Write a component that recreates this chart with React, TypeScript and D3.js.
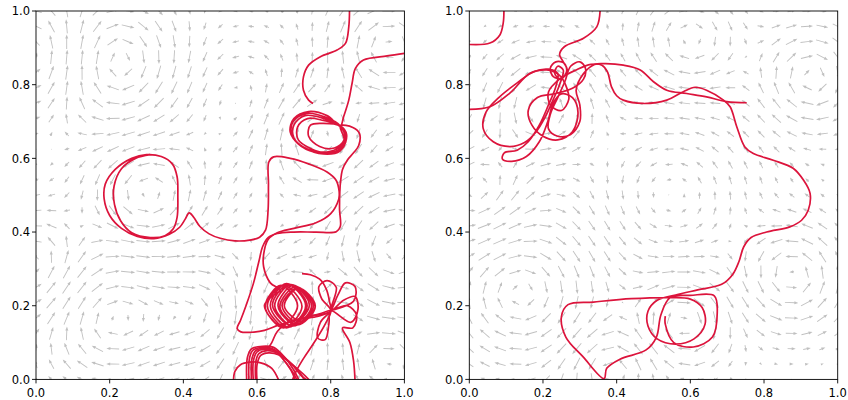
import React from 'react';
import * as d3 from 'd3';

const tickValues = [0, 0.2, 0.4, 0.6, 0.8, 1.0];
const gridCount = 25;

// red trajectories, left panel (data units)
const leftTrajectories: number[][][] = [
  [[0.851, 1.0], [0.849, 0.957], [0.84, 0.912], [0.817, 0.894], [0.772, 0.876], [0.74, 0.853], [0.726, 0.821], [0.726, 0.785], [0.74, 0.758], [0.752, 0.749]],
  [[1.0, 0.885], [0.953, 0.878], [0.889, 0.867], [0.867, 0.844], [0.858, 0.804], [0.849, 0.758], [0.835, 0.713], [0.826, 0.688],
    [0.79, 0.716], [0.74, 0.727], [0.7, 0.708], [0.69, 0.672], [0.715, 0.638], [0.765, 0.618], [0.815, 0.625], [0.838, 0.652], [0.826, 0.688],
    [0.785, 0.712], [0.735, 0.722], [0.698, 0.7], [0.694, 0.665], [0.72, 0.633], [0.77, 0.615], [0.82, 0.622], [0.84, 0.655], [0.826, 0.688],
    [0.782, 0.708], [0.73, 0.716], [0.7, 0.69], [0.7, 0.656], [0.73, 0.628], [0.78, 0.612], [0.825, 0.62], [0.842, 0.66], [0.826, 0.688],
    [0.78, 0.703], [0.737, 0.708], [0.71, 0.685], [0.712, 0.65], [0.745, 0.627], [0.79, 0.615], [0.83, 0.625], [0.843, 0.665], [0.826, 0.688],
    [0.775, 0.695], [0.745, 0.69], [0.74, 0.66], [0.77, 0.632], [0.81, 0.628], [0.836, 0.65], [0.826, 0.688],
    [0.86, 0.684], [0.878, 0.668], [0.876, 0.635], [0.862, 0.615], [0.845, 0.595], [0.832, 0.57], [0.826, 0.53],
    [0.822, 0.49], [0.8, 0.45], [0.76, 0.425], [0.7, 0.41], [0.655, 0.398], [0.63, 0.38], [0.618, 0.34], [0.618, 0.305], [0.636, 0.262], [0.663, 0.242],
    [0.64, 0.225], [0.62, 0.2], [0.665, 0.145], [0.71, 0.2], [0.665, 0.255],
    [0.622, 0.198], [0.672, 0.14], [0.722, 0.198], [0.672, 0.256],
    [0.628, 0.2], [0.68, 0.14], [0.732, 0.2], [0.68, 0.26],
    [0.636, 0.2], [0.686, 0.142], [0.736, 0.2], [0.686, 0.258],
    [0.642, 0.202], [0.692, 0.147], [0.742, 0.202], [0.692, 0.257],
    [0.648, 0.2], [0.698, 0.145], [0.748, 0.2], [0.698, 0.255],
    [0.657, 0.2], [0.705, 0.148], [0.753, 0.2], [0.705, 0.252],
    [0.662, 0.198], [0.71, 0.148], [0.758, 0.198], [0.71, 0.248],
    [0.668, 0.2], [0.713, 0.152], [0.758, 0.2], [0.713, 0.248],
    [0.674, 0.2], [0.716, 0.158], [0.74, 0.17], [0.8, 0.186],
    [0.775, 0.22], [0.768, 0.252], [0.79, 0.268], [0.815, 0.25], [0.8, 0.186],
    [0.835, 0.215], [0.866, 0.225], [0.874, 0.19], [0.855, 0.155], [0.8, 0.186],
    [0.795, 0.15], [0.785, 0.108], [0.765, 0.112], [0.772, 0.155], [0.8, 0.186],
    [0.82, 0.23], [0.84, 0.262], [0.866, 0.252], [0.862, 0.212], [0.8, 0.186],
    [0.845, 0.2], [0.87, 0.175], [0.86, 0.14], [0.832, 0.14], [0.852, 0.1], [0.862, 0.05], [0.866, -0.005]],
  [[0.31, 0.61], [0.27, 0.6], [0.232, 0.572], [0.212, 0.525], [0.213, 0.475], [0.23, 0.43], [0.26, 0.398], [0.31, 0.385], [0.35, 0.39], [0.372, 0.408],
    [0.383, 0.44], [0.385, 0.5], [0.383, 0.55], [0.37, 0.585], [0.34, 0.605], [0.3, 0.61],
    [0.26, 0.6], [0.215, 0.57], [0.188, 0.53], [0.185, 0.49], [0.2, 0.445], [0.232, 0.41], [0.275, 0.388], [0.32, 0.382], [0.362, 0.394], [0.39, 0.413],
    [0.405, 0.435], [0.416, 0.452], [0.428, 0.44], [0.445, 0.415], [0.47, 0.395], [0.5, 0.383], [0.54, 0.376], [0.58, 0.378], [0.607, 0.386], [0.623, 0.405],
    [0.63, 0.46], [0.631, 0.53], [0.632, 0.59], [0.645, 0.604], [0.69, 0.6], [0.74, 0.585], [0.79, 0.563], [0.815, 0.54], [0.823, 0.51], [0.824, 0.46],
    [0.826, 0.415], [0.815, 0.401], [0.76, 0.4], [0.7, 0.4], [0.655, 0.396], [0.63, 0.385], [0.615, 0.36], [0.605, 0.32], [0.59, 0.26], [0.57, 0.2],
    [0.555, 0.16], [0.546, 0.138], [0.556, 0.129], [0.585, 0.128], [0.62, 0.133], [0.66, 0.148], [0.72, 0.165], [0.77, 0.178], [0.8, 0.186],
    [0.785, 0.15], [0.755, 0.1], [0.725, 0.055], [0.705, 0.02], [0.695, -0.005]],
  [[0.722, 0.287], [0.745, 0.284], [0.77, 0.272], [0.788, 0.245], [0.797, 0.21], [0.8, 0.186], [0.76, 0.17], [0.69, 0.158], [0.655, 0.13], [0.64, 0.1], [0.63, 0.085]],
  [[0.572, -0.005], [0.574, 0.06], [0.585, 0.083], [0.615, 0.09], [0.645, 0.087], [0.675, 0.06], [0.7, 0.025], [0.715, -0.005]],
  [[0.578, -0.005], [0.58, 0.06], [0.59, 0.08], [0.615, 0.087], [0.64, 0.084], [0.668, 0.058], [0.692, 0.025], [0.705, -0.005]],
  [[0.585, -0.005], [0.586, 0.055], [0.596, 0.078], [0.62, 0.085], [0.648, 0.08], [0.675, 0.05], [0.7, 0.015], [0.71, -0.005]],
  [[0.59, -0.005], [0.59, 0.05], [0.6, 0.075], [0.62, 0.082], [0.65, 0.078], [0.685, 0.05], [0.715, 0.02], [0.73, -0.005]],
  [[0.596, -0.005], [0.597, 0.05], [0.605, 0.07], [0.625, 0.078], [0.655, 0.072], [0.69, 0.045], [0.725, 0.015], [0.745, -0.005]],
  [[0.6, -0.005], [0.6, 0.04], [0.61, 0.065], [0.632, 0.072], [0.66, 0.066], [0.695, 0.04], [0.72, 0.01], [0.74, -0.005]],
  [[0.536, -0.005], [0.54, 0.022], [0.555, 0.04], [0.58, 0.047], [0.61, 0.045], [0.64, 0.03], [0.66, -0.005]],
];

// red trajectories, right panel
const rightTrajectories: number[][][] = [
  [[0.0, 0.909], [0.056, 0.913], [0.083, 0.935], [0.092, 0.967], [0.094, 1.0]],
  [[0.355, 1.0], [0.346, 0.957], [0.31, 0.926], [0.258, 0.903], [0.245, 0.882], [0.255, 0.862], [0.266, 0.84], [0.252, 0.818], [0.228, 0.822],
    [0.22, 0.845], [0.235, 0.862], [0.258, 0.858], [0.264, 0.835], [0.248, 0.815], [0.232, 0.83], [0.24, 0.85], [0.255, 0.84],
    [0.245, 0.8], [0.228, 0.76], [0.205, 0.71], [0.18, 0.67], [0.15, 0.643], [0.11, 0.632], [0.065, 0.645], [0.038, 0.68], [0.045, 0.725],
    [0.08, 0.765], [0.13, 0.805], [0.175, 0.835], [0.215, 0.842], [0.24, 0.83], [0.235, 0.795], [0.215, 0.745], [0.19, 0.69], [0.16, 0.645],
    [0.13, 0.622], [0.095, 0.615], [0.09, 0.598], [0.115, 0.592], [0.155, 0.605], [0.19, 0.645], [0.213, 0.7], [0.228, 0.75], [0.25, 0.775],
    [0.28, 0.765], [0.295, 0.725], [0.28, 0.672], [0.24, 0.65], [0.2, 0.66], [0.17, 0.69], [0.16, 0.73], [0.185, 0.765], [0.23, 0.775],
    [0.28, 0.79], [0.31, 0.815], [0.315, 0.845], [0.3, 0.862], [0.275, 0.85], [0.26, 0.81], [0.24, 0.765], [0.22, 0.72], [0.215, 0.68],
    [0.24, 0.66], [0.275, 0.665], [0.3, 0.7], [0.3, 0.745], [0.29, 0.785], [0.31, 0.83], [0.34, 0.855], [0.37, 0.857], [0.418, 0.853],
    [0.464, 0.84], [0.5, 0.808], [0.536, 0.785], [0.59, 0.776], [0.644, 0.767], [0.699, 0.754], [0.753, 0.751]],
  [[0.0, 0.733], [0.056, 0.74], [0.11, 0.777], [0.165, 0.831], [0.21, 0.84], [0.245, 0.825], [0.265, 0.79], [0.27, 0.76], [0.25, 0.73],
    [0.22, 0.745], [0.215, 0.78], [0.245, 0.815], [0.29, 0.84], [0.33, 0.855], [0.36, 0.853], [0.375, 0.835], [0.386, 0.794], [0.4, 0.77],
    [0.418, 0.758], [0.472, 0.749], [0.536, 0.758], [0.581, 0.781], [0.613, 0.793], [0.644, 0.785], [0.69, 0.758], [0.708, 0.74],
    [0.726, 0.686], [0.748, 0.631], [0.771, 0.613], [0.825, 0.595], [0.879, 0.573], [0.907, 0.541], [0.925, 0.505], [0.92, 0.459],
    [0.902, 0.432], [0.87, 0.414], [0.807, 0.4], [0.765, 0.385], [0.745, 0.36], [0.732, 0.32], [0.715, 0.285], [0.685, 0.258],
    [0.62, 0.243], [0.56, 0.229], [0.51, 0.215], [0.485, 0.185], [0.485, 0.145], [0.51, 0.11], [0.56, 0.096], [0.61, 0.11], [0.64, 0.15],
    [0.632, 0.195], [0.6, 0.218], [0.545, 0.222], [0.44, 0.219], [0.337, 0.21], [0.268, 0.203], [0.25, 0.17], [0.262, 0.115], [0.309, 0.061],
    [0.366, 0.002], [0.373, 0.03], [0.409, 0.055], [0.48, 0.08], [0.508, 0.115], [0.52, 0.175], [0.545, 0.222], [0.6, 0.228], [0.665, 0.227],
    [0.673, 0.18], [0.66, 0.115], [0.608, 0.088], [0.555, 0.1], [0.532, 0.15], [0.532, 0.172]],
];

// vortex centres read from the arrow field: [x, y, strength, radius]
const leftVortices = [
  [0.30, 0.50, 1.0, 0.11], [0.76, 0.66, -0.8, 0.09], [0.69, 0.20, 1.0, 0.08], [0.81, 0.19, -0.6, 0.06],
  [0.63, 0.04, 0.7, 0.07], [0.22, 0.86, -1.3, 0.11], [0.0, 0.88, 1.0, 0.1], [0.20, 0.17, -1.3, 0.12],
  [0.0, 0.30, 1.0, 0.1], [0.96, 0.90, -1.2, 0.1], [0.98, 0.35, 1.2, 0.12], [0.45, 0.18, -0.8, 0.1],
  [0.55, 0.75, 0.5, 0.14], [0.96, 0.06, -0.8, 0.08],
];
const rightVortices = [
  [0.20, 0.74, 1.0, 0.1], [0.58, 0.16, -0.9, 0.08], [0.88, 0.28, 1.1, 0.09], [0.93, 0.82, -1.0, 0.09],
  [0.14, 0.24, -1.4, 0.13], [0.55, 0.50, 0.8, 0.16], [0.60, 0.92, -0.7, 0.1], [0.02, 0.50, 0.9, 0.1],
  [0.38, 0.02, 0.8, 0.08],
];

const size = 368.4;
const top = 11;
const font = 'DejaVu Sans, sans-serif';

function velocity(vort: number[][], x: number, y: number) {
  let u = 0, v = 0;
  for (const [cx, cy, s, r] of vort) {
    const dx = x - cx, dy = y - cy;
    const e = Math.exp(-(dx * dx + dy * dy) / (2 * r * r));
    u += (-s * dy / (r * r)) * e;
    v += (s * dx / (r * r)) * e;
  }
  return [u, v];
}

function arrowPath(x0: number, y0: number, dx: number, dy: number) {
  const L = Math.hypot(dx, dy);
  if (L < 0.3) return '';
  const ux = dx / L, uy = dy / L, nx = -uy, ny = ux;
  let hl = 4, hw = 1.5, sw = 0.45;
  if (L < hl) { hw = hw * L / hl; hl = L; }
  const b = L - hl;
  const p = [
    [x0 + nx * sw, y0 + ny * sw],
    [x0 + ux * b + nx * sw, y0 + uy * b + ny * sw],
    [x0 + ux * b + nx * hw, y0 + uy * b + ny * hw],
    [x0 + ux * L, y0 + uy * L],
    [x0 + ux * b - nx * hw, y0 + uy * b - ny * hw],
    [x0 + ux * b - nx * sw, y0 + uy * b - ny * sw],
    [x0 - nx * sw, y0 - ny * sw],
  ];
  return 'M' + p.map(q => q[0].toFixed(2) + ',' + q[1].toFixed(2)).join('L') + 'Z';
}

function Panel({ left, trajs, vort, id }: { left: number; trajs: number[][][]; vort: number[][]; id: string }) {
  const x = d3.scaleLinear().domain([0, 1]).range([0, size]);
  const y = d3.scaleLinear().domain([0, 1]).range([size, 0]);
  const line = d3.line<number[]>().x(d => x(d[0])).y(d => y(d[1])).curve(d3.curveCatmullRom.alpha(0.5));
  const grid = d3.range(gridCount).map(i => i / (gridCount - 1));
  const arrows: string[] = [];
  for (const gx of grid) {
    for (const gy of grid) {
      const [u, v] = velocity(vort, gx, gy);
      const speed = Math.hypot(u, v);
      if (speed < 1e-6) continue;
      const len = 15 * (1 - Math.exp(-speed / 3.2));
      const sx = (u / speed) * len, sy = (-v / speed) * len;
      arrows.push(arrowPath(x(gx) - sx / 2, y(gy) - sy / 2, sx, sy));
    }
  }
  return (
    <g transform={`translate(${left},${top})`}>
      <defs>
        <clipPath id={id}><rect x={0} y={0} width={size} height={size} /></clipPath>
      </defs>
      <g clipPath={`url(#${id})`}>
        <path d={arrows.join('')} fill="#8c8c8c" fillOpacity={0.55} />
        {trajs.map((t, i) => (
          <path key={i} d={line(t) || ''} fill="none" stroke="#dc143c" strokeWidth={1.7} strokeLinejoin="round" />
        ))}
      </g>
      <rect x={0} y={0} width={size} height={size} fill="none" stroke="#000" strokeWidth={0.9} />
      {tickValues.map(t => (
        <g key={'x' + t}>
          <line x1={x(t)} x2={x(t)} y1={size} y2={size + 4} stroke="#000" strokeWidth={0.9} />
          <text x={x(t)} y={size + 17.5} textAnchor="middle" fontFamily={font} fontSize={11.5}>{t.toFixed(1)}</text>
        </g>
      ))}
      {tickValues.map(t => (
        <g key={'y' + t}>
          <line x1={-4} x2={0} y1={y(t)} y2={y(t)} stroke="#000" strokeWidth={0.9} />
          <text x={-6} y={y(t)} dy="0.36em" textAnchor="end" fontFamily={font} fontSize={11.5}>{t.toFixed(1)}</text>
        </g>
      ))}
    </g>
  );
}

export default function App() {
  return (
    <svg width={848} height={400} style={{ position: 'absolute', left: 0, top: 0, background: '#fff' }}>
      <rect width={848} height={400} fill="#fff" />
      <Panel left={36} trajs={leftTrajectories} vort={leftVortices} id="clipL" />
      <Panel left={469.3} trajs={rightTrajectories} vort={rightVortices} id="clipR" />
    </svg>
  );
}
